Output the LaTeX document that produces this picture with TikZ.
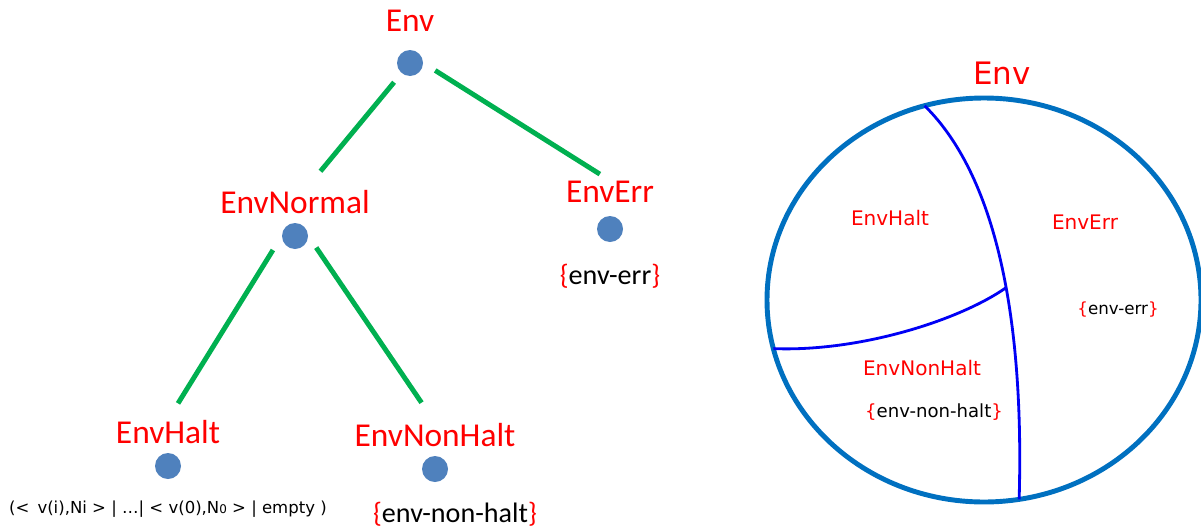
\documentclass[tikz,border=0pt]{standalone}
\usepackage{fontspec}
\setmainfont{Carlito}
\newfontfamily\setfont{DejaVu Sans}
\usetikzlibrary{positioning,shapes.geometric}
\definecolor{DotClr}{RGB}{79,129,189}
\definecolor{BranchClr}{RGB}{0,176,80}
\definecolor{SetClr}{RGB}{0,112,192}
\definecolor{CutClr}{RGB}{0,0,245}
\definecolor{TagClr}{RGB}{255,0,0}
\newcommand\redbraces[1]{\textcolor{TagClr}{\{}#1\textcolor{TagClr}{\}}}

\begin{document}
\begin{tikzpicture}[
  dot/.style={circle,fill=DotClr,minimum size=0.52cm,inner sep=0pt},
  tag/.style={text=TagClr,inner sep=0pt,font=\fontsize{19}{22}\selectfont},
  entry/.style={inner sep=0pt,font=\fontsize{16}{19}\selectfont},
  tuple/.style={inner sep=0pt,font=\setfont\fontsize{9.4}{11}\selectfont},
  branch/.style={line width=2.8pt,color=BranchClr},
  part/.style={text=TagClr,inner sep=0pt,font=\setfont\fontsize{11.4}{13}\selectfont},
  member/.style={inner sep=0pt,font=\setfont\fontsize{9.5}{11}\selectfont},
  cutline/.style={line width=1.6pt,color=CutClr}]
\useasboundingbox (0,0) rectangle (24.02,10.58);

% the tree
\node[dot] (envdot) at (8.20,9.32) {};
\node[dot] (normdot) at (5.90,5.86) {};
\node[dot] (errdot) at (12.20,6.00) {};
\node[dot] (haltdot) at (3.36,1.26) {};
\node[dot] (nonhaltdot) at (8.70,1.20) {};

\node[tag, above=0.36cm of envdot] (env) {Env};
\node[tag, above=0.17cm of normdot] (normal) {EnvNormal};
\node[tag, above=0.26cm of errdot] (err) {EnvErr};
\node[tag, above=0.18cm of haltdot] (halt) {EnvHalt};
\node[tag, above=0.18cm of nonhaltdot] (nonhalt) {EnvNonHalt};

\node[entry, below=0.42cm of errdot] (errval) {\redbraces{env-err}};
\node[entry, below=0.38cm of nonhaltdot, xshift=0.4cm] (nonhaltval) {\redbraces{env-non-halt}};
\node[tuple, below=0.42cm of haltdot] (haltval)
  {(<\, v(i),Ni > | …| < v(0),N{\fontsize{6.8}{7}\selectfont 0} > | empty )};

\draw[branch, shorten <=0.5cm, shorten >=0.8cm] (envdot.center) -- (normal.center);
\draw[branch, shorten <=0.28cm, shorten >=0.24cm] (envdot.east) -- (err.north);
\draw[branch, shorten <=0.33cm, shorten >=0.38cm] (normdot.west) -- (halt.north);
\draw[branch, shorten <=0.28cm, shorten >=0.48cm] (normdot.east) -- (nonhalt.north);

% the same sets as regions
\node[ellipse, draw=SetClr, line width=2.8pt, inner sep=0pt, outer sep=0pt,
  minimum width=8.68cm, minimum height=8.08cm] (envset) at (19.68,4.58) {};
\node[tag, font=\setfont\fontsize{17.6}{20}\selectfont] (settitle) at (20.04,9.12) {Env};

\draw[cutline] (envset.107.5) .. controls (20.00,6.98) and (20.48,3.98) ..
  coordinate[pos=0.55] (fork) (envset.280.2);
\draw[cutline] (fork) .. controls (19.20,4.18) and (17.20,3.54) .. (envset.193.3);

\node[part] (haltpart) at (17.80,6.22) {EnvHalt};
\node[part] (errpart) at (21.70,6.14) {EnvErr};
\node[member] (errset) at (22.36,4.38) {\redbraces{env-err}};
\node[part] (nonhaltpart) at (18.44,3.22) {EnvNonHalt};
\node[member, font=\setfont\fontsize{10.3}{12}\selectfont] (nonhaltset) at (18.68,2.34) {\redbraces{env-non-halt}};
\end{tikzpicture}
\end{document}
